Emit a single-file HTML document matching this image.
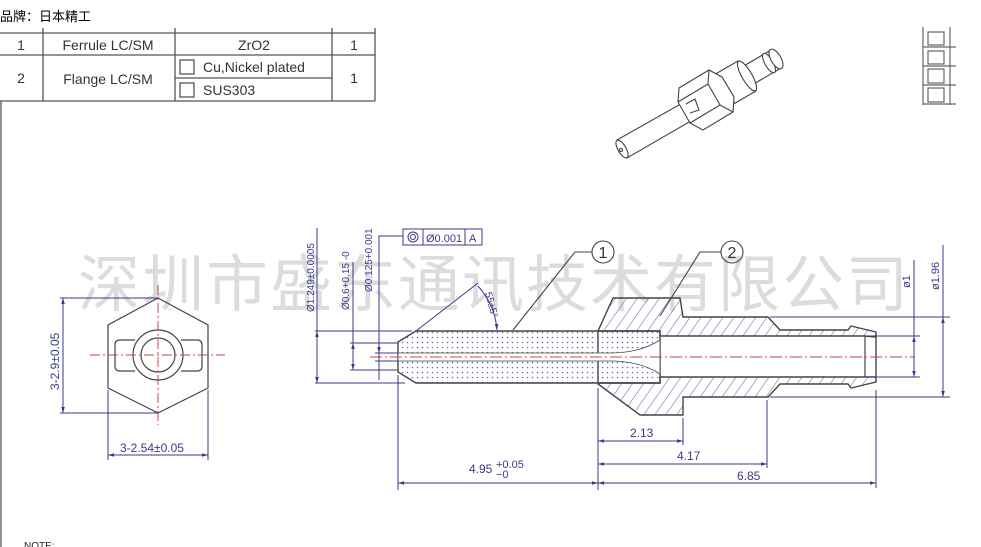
<!DOCTYPE html>
<html><head><meta charset="utf-8"><style>
html,body{margin:0;padding:0;background:#fff;}
svg{display:block;}
text{font-family:"Liberation Sans","Noto Sans CJK SC",sans-serif;}
</style></head><body>
<svg width="981" height="547" viewBox="0 0 981 547" xmlns="http://www.w3.org/2000/svg">
<defs>
<pattern id="dots" width="5" height="5" patternUnits="userSpaceOnUse">
<circle cx="2.5" cy="2.5" r="0.8" fill="#6a6aa8"/>
</pattern>
<pattern id="hatch" width="9" height="9" patternUnits="userSpaceOnUse" patternTransform="rotate(35)">
<line x1="0" y1="0" x2="0" y2="9" stroke="#5a5aa0" stroke-width="1"/>
</pattern>
<marker id="ar" viewBox="0 0 10 10" refX="10" refY="5" markerWidth="6" markerHeight="6" orient="auto-start-reverse"><path d="M0,2 L10,5 L0,8z" fill="#3a3a8a"/></marker>
</defs>

<text x="78" y="306" font-size="62" fill="#dcdcdc" textLength="830" font-family="'Noto Serif CJK SC','Noto Sans CJK SC',serif">深圳市盛东通讯技术有限公司</text>

<text x="0" y="21" font-size="13" fill="#000">品牌：日本精工</text>

<g stroke="#555" stroke-width="1.3" fill="none">
<line x1="0" y1="33" x2="375" y2="33"/>
<line x1="0" y1="55" x2="375" y2="55"/>
<line x1="0" y1="101" x2="375" y2="101"/>
<line x1="175" y1="78" x2="332" y2="78"/>
<line x1="43" y1="28" x2="43" y2="101"/>
<line x1="175" y1="28" x2="175" y2="101"/>
<line x1="332" y1="28" x2="332" y2="101"/>
<line x1="375" y1="28" x2="375" y2="101"/>
<rect x="180" y="60" width="14" height="14"/>
<rect x="180" y="83" width="14" height="14"/>
<line x1="1" y1="101" x2="1" y2="547"/>
</g>
<g font-size="14" fill="#333">
<text x="21" y="50" text-anchor="middle">1</text>
<text x="108" y="50" text-anchor="middle">Ferrule LC/SM</text>
<text x="254" y="50" text-anchor="middle">ZrO2</text>
<text x="354" y="50" text-anchor="middle">1</text>
<text x="21" y="83" text-anchor="middle">2</text>
<text x="108" y="84" text-anchor="middle">Flange LC/SM</text>
<text x="203" y="72">Cu,Nickel plated</text>
<text x="203" y="95">SUS303</text>
<text x="354" y="83" text-anchor="middle">1</text>
</g>

<g stroke="#666" stroke-width="1.2" fill="none">
<line x1="923" y1="27" x2="923" y2="105"/>
<line x1="950" y1="27" x2="950" y2="105"/>
<line x1="923" y1="47" x2="956" y2="47"/>
<line x1="923" y1="66" x2="956" y2="66"/>
<line x1="923" y1="85" x2="956" y2="85"/>
<line x1="923" y1="104" x2="956" y2="104"/>
<rect x="928" y="32" width="16" height="13"/>
<rect x="928" y="51" width="16" height="13"/>
<rect x="928" y="69" width="16" height="14"/>
<rect x="928" y="88" width="16" height="14"/>
</g>

<!-- iso view -->
<g stroke="#444" stroke-width="1.1" fill="#fff" stroke-linejoin="round">
<!-- tube -->
<path d="M742,67 L771,50 L781,68 L752,85 Z"/>
<ellipse cx="769" cy="63" rx="4" ry="11" transform="rotate(-30 769 63)"/>
<ellipse cx="776" cy="59" rx="5" ry="11" transform="rotate(-30 776 59)"/>
<!-- collar -->
<path d="M712,76 L738,61 L756,91 L730,106 Z"/>
<ellipse cx="747" cy="76" rx="5" ry="17" transform="rotate(-30 747 76)"/>
<!-- ferrule -->
<path d="M617,140 L686,101 L696,118 L627,158 Z"/>
<ellipse cx="622" cy="149" rx="4" ry="10" transform="rotate(-30 622 149)"/>
<circle cx="621" cy="150" r="1.5" fill="none"/>
<!-- nut -->
<path d="M709,70 L679,88 L678,102 L690,123 L703,130 L733,112 L734,97 L722,77 Z"/>
<path d="M709,70 L722,77 L734,97 L733,112 L720,105 L708,84 Z"/>
<path d="M708,84 L678,102 M720,105 L690,123" fill="none"/>
<path d="M686,104 L695,99 L699,110 L690,113" fill="none"/>
</g>

<!-- hex view -->
<g stroke="#444" stroke-width="1.2" fill="none">
<path d="M158,298 L208,325 L208,388 L158,413 L108,388 L108,325 Z"/>
<path d="M135,340 L120,340 Q115,340 115,345 L115,366 Q115,371 120,371 L135,371"/>
<path d="M181,340 L197,340 Q202,340 202,345 L202,366 Q202,371 197,371 L181,371"/>
<circle cx="158" cy="355" r="25"/>
<circle cx="158" cy="355" r="17"/>
</g>
<g stroke="#c44" stroke-width="1" stroke-dasharray="10,3,2,3" fill="none">
<line x1="90" y1="355" x2="225" y2="355"/>
<line x1="158" y1="285" x2="158" y2="425"/>
</g>
<g stroke="#3a3a8a" stroke-width="1" fill="none">
<line x1="60" y1="298" x2="158" y2="298"/>
<line x1="60" y1="413" x2="158" y2="413"/>
<line x1="63" y1="298" x2="63" y2="413" marker-start="url(#ar)" marker-end="url(#ar)"/>
<line x1="108" y1="390" x2="108" y2="460"/>
<line x1="208" y1="390" x2="208" y2="460"/>
<line x1="108" y1="455" x2="208" y2="455" marker-start="url(#ar)" marker-end="url(#ar)"/>
</g>
<g fill="#3a3a8a" font-size="12">
<text transform="translate(59,390) rotate(-90)">3-2.9±0.05</text>
<text x="120" y="452">3-2.54±0.05</text>
</g>

<!-- flange -->
<path fill="url(#hatch)" fill-rule="evenodd" stroke="#444" stroke-width="1.4" d="M598,331 L613,298 L680,298 L683,317 L768,317 L780,330 L848,330 L851,326 L876,332 L876,382 L851,388 L848,384 L780,384 L768,397 L683,397 L683,415 L640,415 L598,384 Z M598,331 L660,331 L660,336 L865,336 L876,337 L876,377 L865,377 L660,377 L660,383 L598,383 Z"/>
<line x1="865" y1="336" x2="865" y2="377" stroke="#444" stroke-width="1.2"/>
<!-- ferrule -->
<path fill="url(#dots)" stroke="#444" stroke-width="1.4" d="M398,342 L416,331 L660,331 L660,383 L416,383 L398,372 Z"/>
<path fill="#fff" stroke="#444" stroke-width="0.8" d="M398,353 L610,353 Q640,353 660,340 L660,374 Q640,361 610,361 L398,361 Z"/>
<line x1="370" y1="357" x2="915" y2="357" stroke="#c44" stroke-width="1" stroke-dasharray="12,3,2,3"/>

<g stroke="#3a3a8a" stroke-width="1" fill="none">
<line x1="315" y1="331" x2="412" y2="331"/>
<line x1="315" y1="383" x2="405" y2="383"/>
<line x1="317" y1="228" x2="317" y2="383"/>
<line x1="317" y1="331" x2="317" y2="383" marker-start="url(#ar)" marker-end="url(#ar)"/>
<line x1="350" y1="343" x2="398" y2="343"/>
<line x1="350" y1="370" x2="398" y2="370"/>
<line x1="353" y1="262" x2="353" y2="370"/>
<line x1="353" y1="343" x2="353" y2="370" marker-start="url(#ar)" marker-end="url(#ar)"/>
<line x1="375" y1="353" x2="398" y2="353"/>
<line x1="375" y1="361" x2="398" y2="361"/>
<polyline points="379,380 379,236 403,236"/>
<line x1="379" y1="340" x2="379" y2="353" marker-end="url(#ar)"/>
<rect x="403" y="229" width="79" height="16"/>
<line x1="423" y1="229" x2="423" y2="245"/>
<line x1="465" y1="229" x2="465" y2="245"/>
<circle cx="413" cy="237" r="5"/><circle cx="413" cy="237" r="2.5"/>
<line x1="398" y1="375" x2="398" y2="490"/>
<line x1="416" y1="331" x2="478" y2="283"/>
<path d="M478,286 Q495,305 497,330" marker-end="url(#ar)"/>
</g>
<g fill="#3a3a8a" font-size="10" font-family="'Liberation Serif',serif">
<text transform="translate(314,312) rotate(-90)">Ø1.249±0.0005</text>
<text transform="translate(349,310) rotate(-90)">Ø0.6+0.15 -0</text>
<text transform="translate(372,292) rotate(-90)">Ø0.125+0.001</text>
<text transform="translate(485,293) rotate(75)">55±5°</text>
</g>
<text x="426" y="242" font-size="11" fill="#3a3a8a">Ø0.001</text>
<text x="469" y="242" font-size="11" fill="#3a3a8a">A</text>

<g stroke="#444" stroke-width="1.1" fill="none">
<circle cx="603" cy="252" r="11"/>
<polyline points="592,252 575,252 513,330"/>
<circle cx="732" cy="252" r="11"/>
<polyline points="721,252 700,252 660,316"/>
</g>
<text x="603" y="258" font-size="16" text-anchor="middle" fill="#333" font-family="'Liberation Serif',serif">1</text>
<text x="732" y="258" font-size="16" text-anchor="middle" fill="#333" font-family="'Liberation Serif',serif">2</text>

<g stroke="#3a3a8a" stroke-width="1" fill="none">
<line x1="770" y1="317" x2="950" y2="317"/>
<line x1="868" y1="336" x2="920" y2="336"/>
<line x1="868" y1="377" x2="920" y2="377"/>
<line x1="770" y1="397" x2="950" y2="397"/>
<line x1="914" y1="260" x2="914" y2="377"/>
<line x1="914" y1="336" x2="914" y2="377" marker-start="url(#ar)" marker-end="url(#ar)"/>
<line x1="943" y1="245" x2="943" y2="397"/>
<line x1="943" y1="317" x2="943" y2="397" marker-start="url(#ar)" marker-end="url(#ar)"/>
</g>
<g fill="#3a3a8a" font-size="11">
<text transform="translate(910,288) rotate(-90)">ø1</text>
<text transform="translate(939,290) rotate(-90)">ø1.96</text>
</g>

<g stroke="#3a3a8a" stroke-width="1" fill="none">
<line x1="598" y1="388" x2="598" y2="490"/>
<line x1="683" y1="418" x2="683" y2="445"/>
<line x1="767" y1="400" x2="767" y2="468"/>
<line x1="876" y1="390" x2="876" y2="488"/>
<line x1="598" y1="441" x2="683" y2="441" marker-start="url(#ar)" marker-end="url(#ar)"/>
<line x1="598" y1="464" x2="767" y2="464" marker-start="url(#ar)" marker-end="url(#ar)"/>
<line x1="598" y1="483" x2="876" y2="483" marker-start="url(#ar)" marker-end="url(#ar)"/>
<line x1="398" y1="483" x2="598" y2="483" marker-start="url(#ar)" marker-end="url(#ar)"/>
</g>
<g fill="#3a3a8a" font-size="12">
<text x="630" y="437">2.13</text>
<text x="677" y="460">4.17</text>
<text x="737" y="480">6.85</text>
<text x="469" y="473">4.95</text>
<text x="496" y="468" font-size="11">+0.05</text>
<text x="496" y="478" font-size="11">−0</text>
</g>

<text x="24" y="549" font-size="10" fill="#222">NOTE:</text>
</svg>
</body></html>
